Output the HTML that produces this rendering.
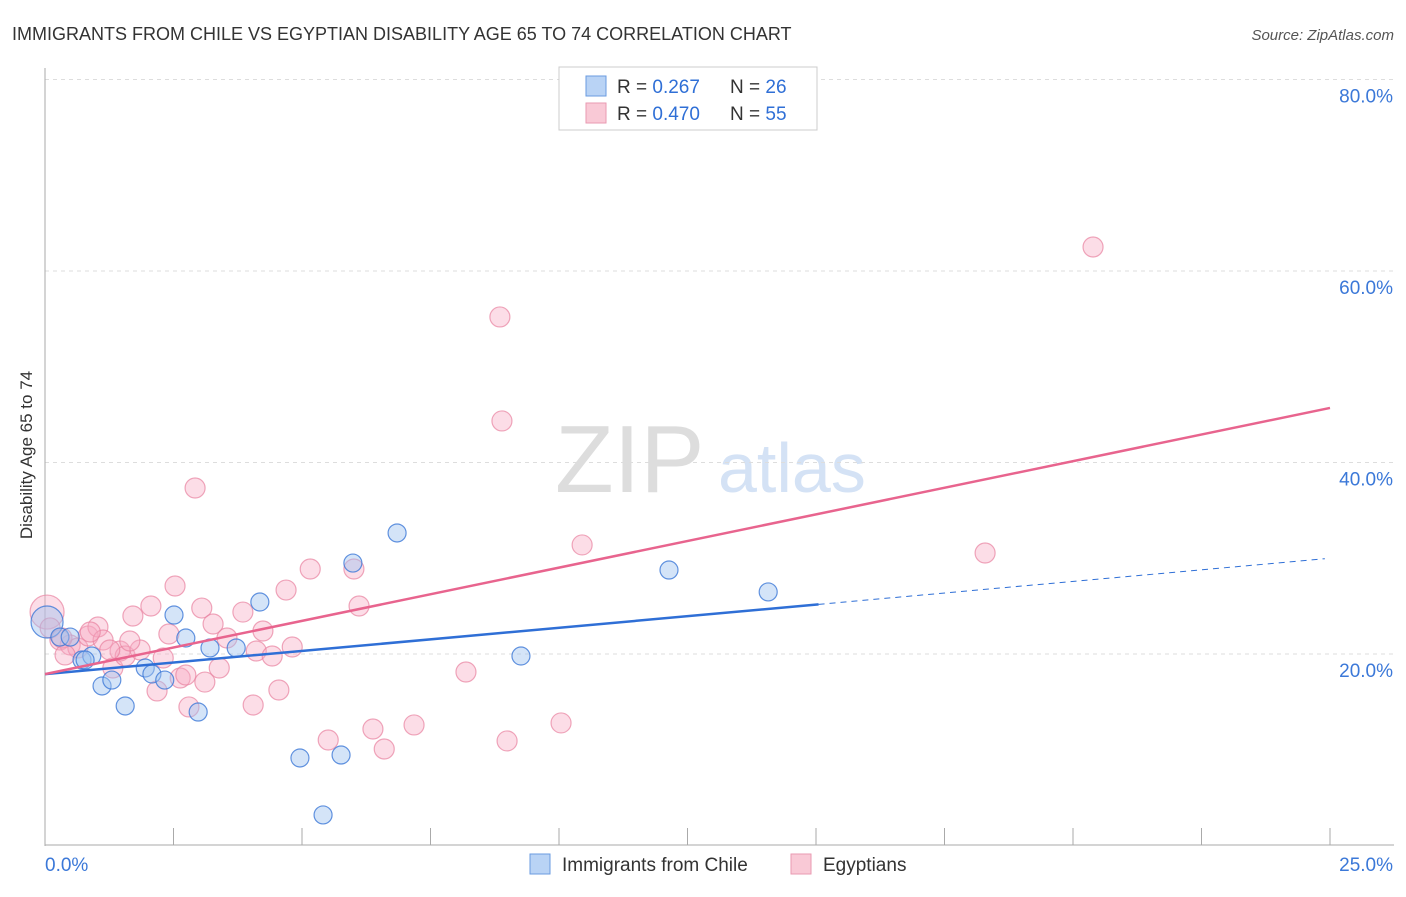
<!DOCTYPE html>
<html><head><meta charset="utf-8"><style>
body{margin:0;background:#fff;font-family:"Liberation Sans",sans-serif}
svg text{font-family:"Liberation Sans",sans-serif}
</style></head><body>
<svg id="c" width="1406" height="892">
<text x="12" y="40" font-size="18" fill="#333">IMMIGRANTS FROM CHILE VS EGYPTIAN DISABILITY AGE 65 TO 74 CORRELATION CHART</text>
<text x="1394" y="40" font-size="15" fill="#555" font-style="italic" text-anchor="end">Source: ZipAtlas.com</text>
<text x="32" y="455" font-size="17" fill="#333" text-anchor="middle" transform="rotate(-90 32 455)">Disability Age 65 to 74</text>
<text x="555" y="492" font-size="96" fill="#ddd" font-family="Liberation Serif">ZIP</text>
<text x="718" y="492" font-size="70" fill="#d4e2f5">atlas</text>
<g id="grid"></g><g id="pts"></g><g id="trend"></g>
<g>
<rect x="559" y="67" width="258" height="63" fill="#fff" stroke="#ccc"/>
<rect x="586" y="76" width="20" height="20" fill="#b9d3f5" stroke="#6a9be0"/>
<rect x="586" y="103" width="20" height="20" fill="#f9c9d6" stroke="#e99ab2"/>
<text x="617" y="93" font-size="19" fill="#333">R = <tspan fill="#2f6fd6">0.267</tspan></text>
<text x="730" y="93" font-size="19" fill="#333">N = <tspan fill="#2f6fd6">26</tspan></text>
<text x="617" y="120" font-size="19" fill="#333">R = <tspan fill="#2f6fd6">0.470</tspan></text>
<text x="730" y="120" font-size="19" fill="#333">N = <tspan fill="#2f6fd6">55</tspan></text>
</g>
<g>
<rect x="530" y="854" width="20" height="20" fill="#b9d3f5" stroke="#6a9be0"/>
<text x="562" y="871" font-size="19" fill="#333">Immigrants from Chile</text>
<rect x="791" y="854" width="20" height="20" fill="#f9c9d6" stroke="#e99ab2"/>
<text x="823" y="871" font-size="19" fill="#333">Egyptians</text>
</g>
</svg>
<script>
const yTicks=[20,40,60,80];
const yTickLabels=["20.0%","40.0%","60.0%","80.0%"];
const xTicks=[0,2.5,5,7.5,10,12.5,15,17.5,20,22.5,25];
const xEndLabels=["0.0%","25.0%"];
const chileX=[0.04,0.29,0.49,0.72,0.91,1.11,1.30,1.56,1.95,2.08,2.33,2.51,2.74,2.98,3.21,3.72,4.18,4.96,5.41,5.76,5.99,6.85,9.26,12.14,14.07,0.78];
const chileY=[23.34,21.77,21.77,19.37,19.79,16.66,17.28,14.57,18.54,17.91,17.28,24.07,21.67,13.94,20.63,20.63,25.43,9.14,3.19,9.45,29.50,32.64,19.79,28.77,26.48,19.37];
const egX=[0.04,0.10,0.29,0.49,0.64,0.84,1.03,1.13,1.32,1.46,1.56,1.71,1.85,2.06,2.18,2.30,2.41,2.53,2.63,2.74,2.80,2.92,3.05,3.11,3.27,3.39,3.54,3.85,4.05,4.11,4.24,4.42,4.55,4.69,4.81,5.16,5.51,6.01,6.11,6.38,6.60,7.18,8.19,8.85,8.89,8.99,10.04,10.45,18.29,20.39,0.33,0.88,1.65,0.39,1.26];
const egY=[24.38,22.72,21.46,20.94,20.63,21.88,22.82,21.46,18.54,20.31,19.79,23.97,20.42,25.01,16.14,19.58,22.09,27.10,17.49,17.81,14.47,37.34,24.80,17.07,23.13,18.54,21.67,24.38,14.67,20.31,22.40,19.79,16.24,26.68,20.73,28.88,11.02,28.88,25.01,12.17,10.08,12.59,18.12,55.20,44.34,10.92,12.80,31.39,30.55,62.51,21.67,22.30,21.36,19.90,20.42];
const chileTrend=[17.9,30.0];
const egTrend=[17.9,45.7];
const NS="http://www.w3.org/2000/svg";
const X=v=>45+v/25*1285, Y=v=>845.5-v/20*191.5;
function mk(t,a,p){const e=document.createElementNS(NS,t);for(const k in a)e.setAttribute(k,a[k]);p.appendChild(e);return e;}
const g=document.getElementById('grid');
yTicks.forEach((t,i)=>{
 const l=mk('line',{x1:45,x2:1394,y1:Y(t),y2:Y(t),stroke:'#ddd','stroke-dasharray':'4,4'},g);
 
 
 const tx=mk('text',{x:1393,y:Y(t)+23,'font-size':19,fill:'#3b78d8','text-anchor':'end'},g);tx.textContent=yTickLabels[i];
 
 
});
mk('line',{x1:45,x2:45,y1:68,y2:846,stroke:'#aaa'},g);
mk('line',{x1:45,x2:1394,y1:845,y2:845,stroke:'#aaa'},g);
xTicks.forEach(t=>{const l=mk('line',{x1:X(t),x2:X(t),y1:828,y2:845,stroke:'#aaa'},g);
 
 });
[[0,'start',45],[25,'end',1393]].forEach((d,i)=>{const tx=mk('text',{x:d[2],y:871,'font-size':19,fill:'#3b78d8','text-anchor':d[1]},g);tx.textContent=xEndLabels[i];
 
 });
const p=document.getElementById('pts');
egX.forEach((x,i)=>{const r=i==0?17:10;const c=mk('circle',{cx:X(x),cy:Y(egY[i]),r:r,fill:'rgba(247,170,195,0.4)',stroke:'rgba(232,130,160,0.7)','stroke-width':1.2},p);
 
 });
chileX.forEach((x,i)=>{const r=i==0?16:9;const c=mk('circle',{cx:X(x),cy:Y(chileY[i]),r:r,fill:'rgba(160,195,240,0.45)',stroke:'rgba(60,120,215,0.8)','stroke-width':1.2},p);
 
 });
const tr=document.getElementById('trend');
const by=x=>chileTrend[0]+(chileTrend[1]-chileTrend[0])*x/25;
let l=mk('line',{x1:X(0),y1:Y(by(0)),x2:X(15.05),y2:Y(by(15.05)),stroke:'#2f6fd6','stroke-width':2.5},tr);


l=mk('line',{x1:X(15.05),y1:Y(by(15.05)),x2:X(24.9),y2:Y(by(24.9)),stroke:'#2f6fd6','stroke-width':1,'stroke-dasharray':'6,5'},tr);


l=mk('line',{x1:X(0),y1:Y(egTrend[0]),x2:X(25),y2:Y(egTrend[1]),stroke:'#e8648e','stroke-width':2.5},tr);


</script>
</body></html>
